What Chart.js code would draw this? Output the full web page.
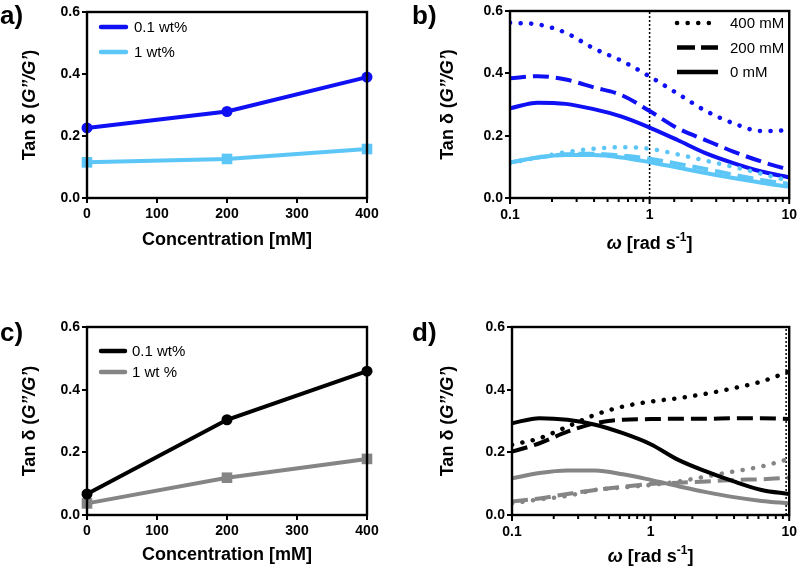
<!DOCTYPE html>
<html>
<head>
<meta charset="utf-8">
<script src="https://cdn.jsdelivr.net/npm/chart.js@4/dist/chart.umd.min.js"></script>
<style>
body { margin: 0; background: #fff; width: 800px; height: 567px; position: relative; overflow: hidden; font-family: 'Liberation Sans', Arial, sans-serif; }
.panel { position: absolute; }
.tag { position: absolute; font-weight: bold; font-size: 26px; line-height: 1; }
</style>
</head>
<body>
<div class="panel" style="left:0;top:0;width:400px;height:290px"><canvas id="chartA"></canvas></div>
<div class="panel" style="left:400px;top:0;width:400px;height:290px"><canvas id="chartB"></canvas></div>
<div class="panel" style="left:0;top:290px;width:400px;height:277px"><canvas id="chartC"></canvas></div>
<div class="panel" style="left:400px;top:290px;width:400px;height:277px"><canvas id="chartD"></canvas></div>
<div class="tag" style="left:0;top:2px">a)</div>
<div class="tag" style="left:412px;top:2px">b)</div>
<div class="tag" style="left:0;top:319px">c)</div>
<div class="tag" style="left:412px;top:319px">d)</div>
<script>
// concentration series (tan delta at fixed frequency)
const concentration = [0, 200, 400];
const a_01wt = [0.226, 0.279, 0.390];
const a_1wt = [0.115, 0.126, 0.158];
const c_01wt = [0.067, 0.304, 0.459];
const c_1wt = [0.037, 0.119, 0.179];

// frequency sweeps
const omega = [0.1, 0.158, 0.251, 0.398, 0.631, 1, 1.585, 2.512, 3.981, 6.31, 10];
const b_01wt_400 = [0.562, 0.557, 0.530, 0.480, 0.440, 0.390, 0.335, 0.280, 0.240, 0.215, 0.217];
const b_01wt_200 = [0.384, 0.391, 0.380, 0.355, 0.330, 0.279, 0.224, 0.186, 0.149, 0.117, 0.090];
const b_01wt_0 = [0.288, 0.306, 0.302, 0.285, 0.261, 0.226, 0.186, 0.144, 0.112, 0.085, 0.066];
const b_1wt_400 = [0.112, 0.130, 0.147, 0.158, 0.163, 0.158, 0.140, 0.120, 0.100, 0.078, 0.055];
const b_1wt_200 = [0.114, 0.130, 0.140, 0.142, 0.136, 0.126, 0.110, 0.093, 0.075, 0.058, 0.045];
const b_1wt_0 = [0.114, 0.130, 0.138, 0.138, 0.130, 0.115, 0.098, 0.080, 0.064, 0.049, 0.036];

const d_01wt_400 = [0.224, 0.245, 0.282, 0.320, 0.346, 0.362, 0.373, 0.387, 0.405, 0.426, 0.458];
const d_01wt_200 = [0.202, 0.229, 0.266, 0.293, 0.304, 0.306, 0.307, 0.307, 0.309, 0.309, 0.306];
const d_01wt_0 = [0.293, 0.309, 0.304, 0.288, 0.261, 0.226, 0.176, 0.139, 0.107, 0.080, 0.067];
const d_1wt_400 = [0.037, 0.050, 0.061, 0.080, 0.088, 0.096, 0.107, 0.123, 0.139, 0.155, 0.179];
const d_1wt_200 = [0.043, 0.053, 0.067, 0.080, 0.090, 0.099, 0.103, 0.107, 0.112, 0.114, 0.119];
const d_1wt_0 = [0.117, 0.134, 0.142, 0.142, 0.130, 0.112, 0.092, 0.073, 0.057, 0.045, 0.037];

// reference frequency lines
const refOmegaB = 1;
const refOmegaD = 9.5;
const yRange = [0, 0.6];

const FONT = "'Liberation Sans', Arial, sans-serif";
const BLUE = '#1010F4';
const LIGHT = '#5CC6F7';
const GRAY = '#858585';
const tickFont = { family: FONT, size: 14, weight: 'bold' };
const dashes = { dot: [0.1, 10.5], dash: [16, 7], solid: [] };

const yTitle = [
	{ t: 'Tan δ (', f: 'bold 18px ' + FONT },
	{ t: 'G”/G’', f: 'italic bold 18px ' + FONT },
	{ t: ')', f: 'bold 18px ' + FONT }
];
const concTitle = [{ t: 'Concentration [mM]', f: 'bold 18px ' + FONT }];
const omegaTitle = [
	{ t: 'ω', f: 'italic bold 18px ' + FONT },
	{ t: ' [rad s', f: 'bold 18px ' + FONT },
	{ t: '-1', f: 'bold 12px ' + FONT, dy: -6 },
	{ t: ']', f: 'bold 18px ' + FONT }
];

function drawRich(ctx, segs, cx, cy, rot) {
	ctx.save();
	ctx.translate(cx, cy);
	ctx.rotate(rot);
	ctx.textBaseline = 'middle';
	ctx.textAlign = 'left';
	ctx.fillStyle = '#000';
	let total = 0;
	segs.forEach(s => { ctx.font = s.f; total += ctx.measureText(s.t).width; });
	let x = -total / 2;
	segs.forEach(s => {
		ctx.font = s.f;
		ctx.fillText(s.t, x, s.dy || 0);
		x += ctx.measureText(s.t).width;
	});
	ctx.restore();
}

// frame, axis titles, log ticks and inline legend
function decor(cfg) {
	return {
		id: 'decor',
		afterDraw(chart) {
			const { ctx, chartArea: a } = chart;
			ctx.save();
			ctx.strokeStyle = '#000';
			ctx.lineWidth = 2.4;
			ctx.setLineDash([]);
			ctx.strokeRect(a.left, a.top, a.right - a.left, a.bottom - a.top);
			if (cfg.logTicks) {
				const sx = chart.scales.x;
				ctx.lineWidth = 2;
				sx.ticks.forEach(t => {
					const l = Math.log10(t.value);
					const major = Math.abs(l - Math.round(l)) < 1e-6;
					const px = sx.getPixelForValue(t.value);
					ctx.beginPath();
					ctx.moveTo(px, a.bottom);
					ctx.lineTo(px, a.bottom + (major ? 6 : 4));
					ctx.stroke();
				});
			}
			ctx.restore();
			drawRich(ctx, cfg.yTitle, cfg.yTitleX, (a.top + a.bottom) / 2, -Math.PI / 2);
			drawRich(ctx, cfg.xTitle, (a.left + a.right) / 2, a.bottom + cfg.xTitleGap, 0);
			if (cfg.legend) {
				const L = cfg.legend;
				L.items.forEach((it, i) => {
					const y = L.y + i * L.rowH;
					ctx.save();
					ctx.strokeStyle = it.color;
					ctx.lineWidth = 4.5;
					ctx.lineCap = it.cap || 'round';
					ctx.setLineDash(it.dash || []);
					ctx.beginPath();
					ctx.moveTo(L.x, y);
					ctx.lineTo(L.x + L.len, y);
					ctx.stroke();
					ctx.restore();
					ctx.save();
					ctx.fillStyle = '#000';
					ctx.font = '15px ' + FONT;
					ctx.textBaseline = 'middle';
					ctx.fillText(it.label, L.textX, y + 1);
					ctx.restore();
				});
			}
		}
	};
}

function yScale(w) {
	return {
		min: yRange[0], max: yRange[1],
		afterFit: s => { s.width = w; },
		ticks: { stepSize: 0.2, color: '#000', font: tickFont, padding: 2, callback: v => Number(v).toFixed(1) },
		grid: { drawOnChartArea: false, color: '#000', lineWidth: 2, tickLength: 5 },
		border: { display: false }
	};
}

function concScale() {
	return {
		type: 'linear', min: 0, max: 400,
		afterFit: s => { s.height = 40; },
		ticks: { stepSize: 100, color: '#000', font: tickFont, padding: 3, maxRotation: 0 },
		grid: { drawOnChartArea: false, color: '#000', lineWidth: 2, tickLength: 5 },
		border: { display: false }
	};
}

function omegaScale() {
	return {
		type: 'logarithmic', min: 0.1, max: 10,
		afterFit: s => { s.height = 40; },
		ticks: {
			autoSkip: false, maxRotation: 0, color: '#000', font: tickFont, padding: 3,
			callback: v => {
				const l = Math.log10(v);
				return Math.abs(l - Math.round(l)) < 1e-6 ? String(Number(v.toPrecision(2))) : '';
			}
		},
		grid: { drawOnChartArea: false, color: 'rgba(0,0,0,0)', tickLength: 6 },
		border: { display: false }
	};
}

function concLine(ys, color, shape) {
	return {
		data: concentration.map((x, i) => ({ x: x, y: ys[i] })),
		borderColor: color, backgroundColor: color, borderWidth: 4,
		pointStyle: shape, pointRadius: shape === 'rect' ? 7.5 : 5.5, pointBorderWidth: 0,
		clip: false
	};
}

function curve(ys, color, style) {
	return {
		data: omega.map((x, i) => ({ x: x, y: ys[i] })),
		borderColor: color, backgroundColor: color,
		borderWidth: style === 'dot' ? 4.5 : 4,
		borderDash: dashes[style], borderCapStyle: style === 'dot' ? 'round' : 'butt',
		pointRadius: 0, cubicInterpolationMode: 'monotone'
	};
}

function refLine(x) {
	return {
		data: [{ x: x, y: yRange[0] }, { x: x, y: yRange[1] }],
		borderColor: '#000', borderWidth: 1.5, borderDash: [2, 2], pointRadius: 0
	};
}

function baseOptions(pad, yW, xScale) {
	return {
		responsive: true,
		maintainAspectRatio: false,
		animation: false,
		layout: { autoPadding: false, padding: pad },
		scales: { x: xScale, y: yScale(yW) },
		plugins: { legend: { display: false }, tooltip: { enabled: false } }
	};
}

const blackKey = [
	{ label: '400 mM', color: '#000', dash: dashes.dot, cap: 'round' },
	{ label: '200 mM', color: '#000', dash: [18, 6], cap: 'butt' },
	{ label: '0 mM', color: '#000', cap: 'butt' }
];

new Chart(document.getElementById('chartA'), {
	type: 'line',
	data: { datasets: [concLine(a_01wt, BLUE, 'circle'), concLine(a_1wt, LIGHT, 'rect')] },
	options: baseOptions({ left: 50, right: 33, top: 12, bottom: 52 }, 37, concScale()),
	plugins: [decor({
		yTitle: yTitle, yTitleX: 30, xTitle: concTitle, xTitleGap: 42,
		legend: { x: 101, len: 25, textX: 134, y: 27, rowH: 25, items: [
			{ label: '0.1 wt%', color: BLUE }, { label: '1 wt%', color: LIGHT }
		] }
	})]
});

new Chart(document.getElementById('chartB'), {
	type: 'line',
	data: { datasets: [
		curve(b_1wt_0, LIGHT, 'solid'), curve(b_1wt_200, LIGHT, 'dash'), curve(b_1wt_400, LIGHT, 'dot'),
		curve(b_01wt_0, BLUE, 'solid'), curve(b_01wt_200, BLUE, 'dash'), curve(b_01wt_400, BLUE, 'dot'),
		refLine(refOmegaB)
	] },
	options: baseOptions({ left: 70, right: 8, top: 11, bottom: 52 }, 40, omegaScale()),
	plugins: [decor({
		yTitle: yTitle, yTitleX: 48, xTitle: omegaTitle, xTitleGap: 46, logTicks: true,
		legend: { x: 277, len: 41, textX: 330, y: 23, rowH: 24.5, items: blackKey }
	})]
});

new Chart(document.getElementById('chartC'), {
	type: 'line',
	data: { datasets: [concLine(c_01wt, '#000', 'circle'), concLine(c_1wt, GRAY, 'rect')] },
	options: baseOptions({ left: 50, right: 33, top: 37, bottom: 12 }, 37, concScale()),
	plugins: [decor({
		yTitle: yTitle, yTitleX: 30, xTitle: concTitle, xTitleGap: 40,
		legend: { x: 101, len: 24, textX: 132, y: 61, rowH: 21, items: [
			{ label: '0.1 wt%', color: '#000' }, { label: '1 wt %', color: GRAY }
		] }
	})]
});

new Chart(document.getElementById('chartD'), {
	type: 'line',
	data: { datasets: [
		curve(d_01wt_0, '#000', 'solid'), curve(d_01wt_200, '#000', 'dash'), curve(d_01wt_400, '#000', 'dot'),
		curve(d_1wt_0, GRAY, 'solid'), curve(d_1wt_200, GRAY, 'dash'), curve(d_1wt_400, GRAY, 'dot'),
		refLine(refOmegaD)
	] },
	options: baseOptions({ left: 72, right: 10, top: 37, bottom: 12 }, 40, omegaScale()),
	plugins: [decor({
		yTitle: yTitle, yTitleX: 48, xTitle: omegaTitle, xTitleGap: 42, logTicks: true
	})]
});
</script>
</body>
</html>
